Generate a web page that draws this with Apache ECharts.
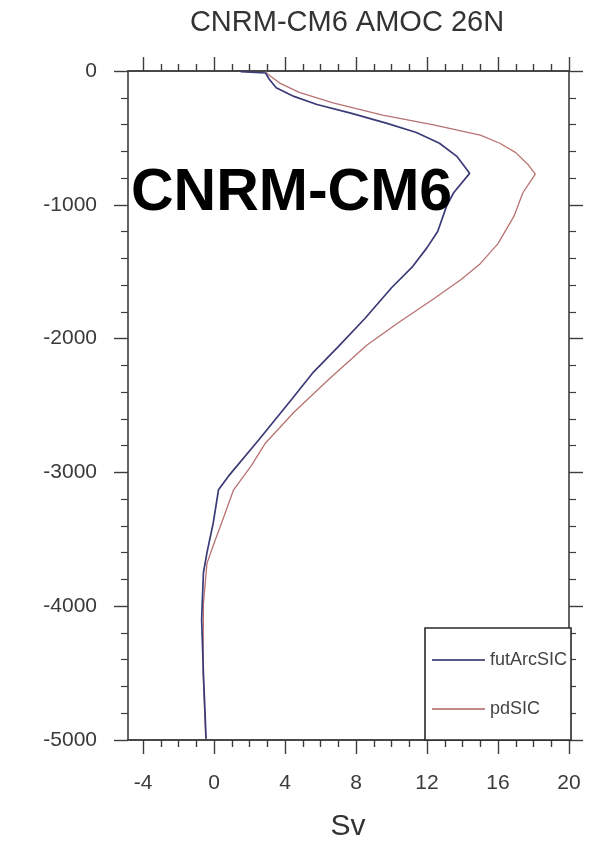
<!DOCTYPE html>
<html>
<head>
<meta charset="utf-8">
<script src="https://cdn.jsdelivr.net/npm/echarts@6/dist/echarts.min.js"></script>
<style>
  html, body { margin: 0; padding: 0; background: #fff; }
  #chart { width: 591px; height: 845px; }
</style>
</head>
<body>
<div id="chart"></div>
<script>
// AMOC streamfunction profile at 26N (Sv) versus depth (m), two experiments
const futArcDepth = [-5, -15, -60, -125, -190, -250, -315, -390, -460, -540, -640, -765, -910, -1010, -1200, -1320, -1460, -1620, -1850, -2060, -2250, -2450, -2760, -3030, -3130, -3380, -3600, -3750, -4100, -4500, -4990];
const futArcSv    = [1.5, 2.9, 3.1, 3.5, 4.5, 5.8, 7.7, 9.7, 11.4, 12.7, 13.7, 14.4, 13.5, 13.1, 12.6, 12.0, 11.2, 10.0, 8.5, 7.0, 5.6, 4.4, 2.5, 0.8, 0.25, -0.05, -0.4, -0.6, -0.7, -0.6, -0.45];

const pdDepth = [-5, -20, -90, -160, -238, -330, -400, -480, -540, -610, -700, -770, -910, -1085, -1290, -1440, -1560, -1710, -1880, -2050, -2300, -2550, -2780, -2950, -3130, -3350, -3530, -3680, -3980, -4500, -4990];
const pdSv    = [2.9, 3.0, 3.7, 4.8, 6.7, 9.5, 12.3, 15.0, 16.1, 17.0, 17.7, 18.1, 17.4, 16.9, 16.0, 15.0, 13.9, 12.3, 10.4, 8.6, 6.5, 4.5, 2.9, 2.1, 1.1, 0.5, 0.0, -0.4, -0.6, -0.62, -0.47];

const seriesNames = ['futArcSIC', 'pdSIC'];
const xTickLabels = [-4, 0, 4, 8, 12, 16, 20];
const yTickLabels = [0, -1000, -2000, -3000, -4000, -5000];

const X_MIN = -4.85, X_MAX = 20;
const xMinorTicks = [];
for (let v = -4; v <= 20; v++) if (v % 4 !== 0) xMinorTicks.push(v);

const FONT = '"Liberation Sans", Arial, Helvetica, sans-serif';
const AXIS_COLOR = '#3d3d3d';
const LABEL_COLOR = '#3a3a3a';

function pairs(xs, ys) { return xs.map((x, i) => [x, ys[i]]); }

function xAxisDef(position, values, len, labels) {
  return {
    type: 'value', position: position, min: X_MIN, max: X_MAX, gridIndex: 0,
    axisLine: { show: true, onZero: false, lineStyle: { color: AXIS_COLOR, width: 1.6 } },
    axisTick: { show: true, inside: false, length: len, customValues: values, lineStyle: { color: AXIS_COLOR, width: 1.4 } },
    axisLabel: labels ? {
      show: true, customValues: values, margin: 33, color: LABEL_COLOR, fontSize: 21, fontFamily: FONT,
      formatter: v => String(v)
    } : { show: false },
    splitLine: { show: false }
  };
}

function yAxisDef(position, labels) {
  return {
    type: 'value', position: position, min: -5000, max: 0, interval: 1000, gridIndex: 0,
    axisLine: { show: true, onZero: false, lineStyle: { color: AXIS_COLOR, width: 1.6 } },
    axisTick: { show: true, inside: false, length: 14, lineStyle: { color: AXIS_COLOR, width: 1.4 } },
    minorTick: { show: true, splitNumber: 5, length: 7, lineStyle: { color: AXIS_COLOR, width: 1.2 } },
    axisLabel: labels ? {
      show: true, margin: 31, color: LABEL_COLOR, fontSize: 21, fontFamily: FONT,
      formatter: v => String(v)
    } : { show: false },
    splitLine: { show: false },
    minorSplitLine: { show: false }
  };
}

const chart = echarts.init(document.getElementById('chart'), null, { renderer: 'canvas' });

chart.setOption({
  animation: false,
  backgroundColor: '#ffffff',
  title: [
    {
      text: 'CNRM-CM6 AMOC 26N', left: 347, top: 8, textAlign: 'center', padding: 0,
      textStyle: { fontSize: 29, fontWeight: 'normal', color: '#333', fontFamily: FONT }
    },
    {
      text: 'CNRM-CM6', left: 131, top: 164, padding: 0, z: 10,
      textStyle: { fontSize: 59, fontWeight: 'bold', color: '#000', fontFamily: FONT }
    }
  ],
  grid: { left: 128, top: 71, width: 441, height: 669, containLabel: false },
  xAxis: [
    xAxisDef('bottom', xTickLabels, 14, true),
    xAxisDef('bottom', xMinorTicks, 7, false),
    xAxisDef('top', xTickLabels, 14, false),
    xAxisDef('top', xMinorTicks, 7, false)
  ],
  yAxis: [
    yAxisDef('left', true),
    yAxisDef('right', false)
  ],
  graphic: [
    {
      type: 'text', x: 348, y: 827,
      style: { text: 'Sv', align: 'center', verticalAlign: 'middle', fontSize: 30, fill: '#333', fontFamily: FONT }
    }
  ],
  legend: {
    data: seriesNames,
    orient: 'vertical',
    left: 425, top: 628,
    padding: [23, 4, 22, 7],
    itemGap: 31,
    itemWidth: 53, itemHeight: 2,
    itemTextGap: 1,
    icon: 'rect',
    borderColor: '#2a2a2a', borderWidth: 1.6,
    backgroundColor: '#fff',
    selectedMode: false,
    textStyle: { fontSize: 18, color: '#444', fontFamily: FONT }
  },
  series: [
    {
      name: seriesNames[0], type: 'line', xAxisIndex: 0, yAxisIndex: 0,
      data: pairs(futArcSv, futArcDepth),
      showSymbol: false, smooth: false, z: 3,
      lineStyle: { color: '#3b3b78', width: 1.7 },
      itemStyle: { color: '#5a5a88' }
    },
    {
      name: seriesNames[1], type: 'line', xAxisIndex: 0, yAxisIndex: 0,
      data: pairs(pdSv, pdDepth),
      showSymbol: false, smooth: false, z: 2,
      lineStyle: { color: '#b87272', width: 1.3 },
      itemStyle: { color: '#c08a8a' }
    }
  ]
});
</script>
</body>
</html>
